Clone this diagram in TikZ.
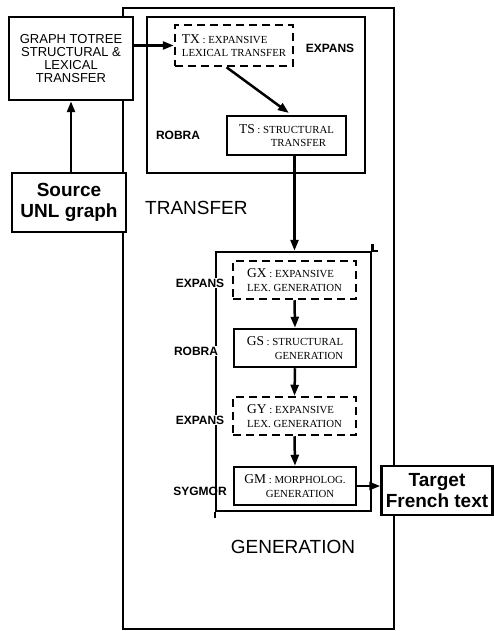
\documentclass[tikz,border=0pt]{standalone}
\usepackage{fontspec}
\setmainfont{Liberation Serif}
\setsansfont{Liberation Sans}
\usetikzlibrary{arrows.meta}
\newcommand\bigc[1]{{\fontsize{13.5}{13.5}\selectfont #1}}
\begin{document}
\begin{tikzpicture}[x=1pt,y=-1pt,
  box/.style={draw, line width=2.5pt, fill=white, inner sep=0pt},
  dbox/.style={box, dash pattern=on 8pt off 5pt},
  lbl/.style={font=\sffamily\bfseries\fontsize{12}{12}\selectfont, inner sep=1pt},
  big/.style={font=\sffamily\fontsize{19}{21}\selectfont},
  bigb/.style={font=\sffamily\bfseries\fontsize{19}{21}\selectfont},
  arr/.style={line width=2.5pt, -{Triangle[length=11pt,width=8pt]}},
  sr/.style={font=\fontsize{10.8}{13.5}\selectfont}
]
\useasboundingbox (0,0) rectangle (494,631);
% outer container
\node[draw, line width=2pt, minimum width=271pt, minimum height=621pt, inner sep=0pt] (outer) at (258.5,318.5) {};
% left boxes
\node[box, minimum width=124pt, minimum height=83pt, align=center,
      font=\sffamily\fontsize{13}{13.3}\selectfont] (graph) at (71,58.5)
      {GRAPH TOTREE\\STRUCTURAL \&\\LEXICAL\\TRANSFER};
\node[box, bigb, minimum width=114pt, minimum height=59pt, align=center] (src) at (69,202.5)
      {Source\\UNL graph};
% transfer block
\node[box, minimum width=218pt, minimum height=156pt] (trbox) at (256,95) {};
\node[dbox, sr, minimum width=118pt, minimum height=41pt, align=left] (TX) at (234,45.5)
      {\bigc{TX} : EXPANSIVE\\LEXICAL TRANSFER};
\node[box, sr, minimum width=119pt, minimum height=39pt, align=center] (TS) at (286.5,135.5)
      {\bigc{TS} : STRUCTURAL\\\hspace*{24pt}TRANSFER};
\node[lbl] (lexp1) at (330,48) {EXPANS};
\node[lbl] (lrob1) at (178,135) {ROBRA};
\node[big, anchor=west, inner sep=0pt] (ltrans) at (145,208) {TRANSFER};
% generation block
\node[box, minimum width=155pt, minimum height=259pt] (GEN) at (293.5,381.5) {};
\draw[line width=2.5pt] (GEN.north east) -- ++(0,-7);
\draw[line width=2.5pt] (GEN.north east) -- ++(6,0);
\draw[line width=2.5pt] (GEN.south west) -- ++(0,6);
\node[dbox, sr, minimum width=123pt, minimum height=38pt, align=left] (GX) at (294.5,280)
      {\bigc{GX} : EXPANSIVE\\LEX. GENERATION};
\node[box, sr, minimum width=122pt, minimum height=38pt, align=right] (GS) at (295,348)
      {\bigc{GS} : STRUCTURAL\\GENERATION};
\node[dbox, sr, minimum width=123pt, minimum height=38pt, align=left] (GY) at (294.5,416)
      {\bigc{GY} : EXPANSIVE\\LEX. GENERATION};
\node[box, sr, minimum width=122pt, minimum height=38pt, align=center] (GM) at (295,486)
      {\bigc{GM} : MORPHOLOG.\\\hspace*{10pt}GENERATION};
\node[lbl, fill=white] (lexp2) at (200,283) {EXPANS};
\node[lbl, fill=white] (lrob2) at (196,351) {ROBRA};
\node[lbl, fill=white] (lexp3) at (200,420) {EXPANS};
\node[lbl] (lsyg) at (200,491) {SYGMOR};
\node[big, inner sep=0pt] (lgen) at (293,547) {GENERATION};
% target
\node[box, bigb, minimum width=111pt, minimum height=49pt, align=center] (target) at (437,490.5)
      {Target\\French text};
% connectors
\draw[arr] (src.north -| graph.south) -- (graph.south);
\draw[arr] (graph.east |- TX.west) -- (TX.west);
\draw[arr, shorten >=3pt] (TX.-109) -- (TS.77);
\draw[arr] ([xshift=8pt]TS.south) -- ([xshift=8pt]TS.south |- GEN.north);
\draw[arr] (GX.south) -- (GS.north);
\draw[arr] (GS.south) -- (GY.north);
\draw[arr] (GY.south) -- (GM.north);
\draw[arr] (GM.east) -- (GM.east -| target.west);
\end{tikzpicture}
\end{document}
